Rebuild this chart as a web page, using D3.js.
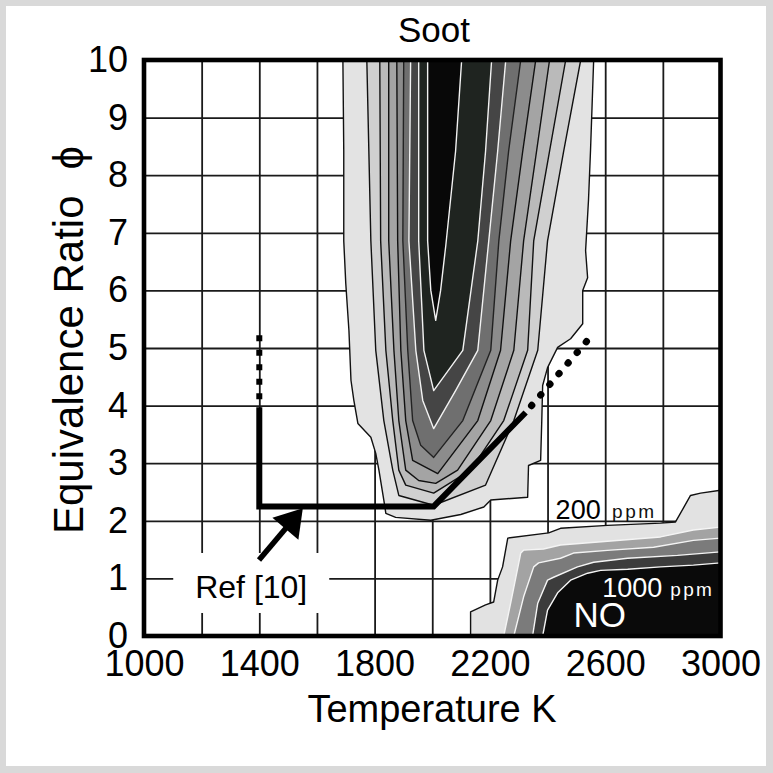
<!DOCTYPE html>
<html><head><meta charset="utf-8">
<script src="https://cdn.jsdelivr.net/npm/d3@7"></script>
<style>html,body{margin:0;padding:0;background:#d9d9d9;} svg{display:block;}</style>
</head><body>
<svg id="chart" width="773" height="773"></svg>
<script>
// ---------------- data ----------------
const xTickValues = [1000, 1400, 1800, 2200, 2600, 3000];
const yTickValues = [0, 1, 2, 3, 4, 5, 6, 7, 8, 9, 10];
const xGridValues = [1200, 1400, 1600, 1800, 2000, 2200, 2400, 2600, 2800];
const yGridValues = [1, 2, 3, 4, 5, 6, 7, 8, 9];

// Soot contour regions [T (K), phi], outermost (L1) to core (L9)
const sootL1 = [[1690,10],[1693,8.42],[1693,6.86],[1700,6.12],[1711,5.30],[1718,4.44],[1728,4.09],[1742,3.69],[1787,3.45],[1804,3.17],[1815,2.88],[1832,2.36],[1839,2.13],[1873,2.06],[1995,2.01],[2099,2.11],[2179,2.24],[2203,2.36],[2331,2.41],[2334,2.96],[2376,3.05],[2380,3.74],[2383,4.35],[2400,4.66],[2435,5.01],[2480,5.16],[2522,5.42],[2522,6.0],[2539,6.22],[2532,6.69],[2542,7.56],[2549,8.42],[2560,10]];
const sootL2 = [[1773,10],[1787,6.86],[1804,4.96],[1832,3.74],[1863,2.88],[1884,2.44],[2005,2.27],[2185,2.62],[2283,3.74],[2366,4.96],[2400,6.86],[2456,8.42],[2515,10]];
const sootL3 = [[1818,10],[1821,6.86],[1839,4.96],[1863,3.74],[1884,2.88],[1908,2.62],[2005,2.48],[2133,2.88],[2248,3.74],[2331,4.96],[2352,6.86],[2407,8.42],[2463,10]];
const sootL4 = [[1849,10],[1849,6.86],[1867,4.96],[1884,3.74],[1908,2.88],[1953,2.70],[2012,2.65],[2088,2.88],[2203,3.74],[2283,4.96],[2317,6.86],[2362,8.42],[2407,10]];
const sootL5 = [[1877,10],[1880,6.86],[1891,4.96],[1908,3.74],[1932,3.05],[2019,2.82],[2158,3.74],[2237,4.96],[2272,6.86],[2314,8.42],[2359,10]];
const sootL6 = [[1901,10],[1898,6.86],[1915,4.96],[1932,3.74],[1960,3.31],[2005,3.10],[2106,3.74],[2203,4.96],[2231,6.86],[2265,8.42],[2307,10]];
const sootL7 = [[1925,10],[1919,6.86],[1943,4.96],[1967,4.09],[2005,3.60],[2081,4.26],[2158,4.96],[2196,6.86],[2227,8.42],[2255,10]];
const sootL8 = [[1953,10],[1953,6.86],[1971,4.96],[2005,4.26],[2106,4.96],[2158,6.86],[2185,8.42],[2206,10]];
const sootL9 = [[1984,10],[1984,6.86],[1995,6.0],[2012,5.48],[2029,6.0],[2047,6.78],[2081,8.42],[2102,10]];

// NO contour regions [T, phi], 200 ppm (outer) to 1000 ppm (inner)
const noL1 = [[2133,0],[2133,0.42],[2185,0.54],[2213,0.59],[2227,0.97],[2244,1.20],[2262,1.70],[2404,1.79],[2445,1.87],[2608,1.92],[2792,1.96],[2844,1.98],[2896,2.44],[2931,2.48],[3000,2.53],[3000,0]];
const noL2 = [[2248,0],[2272,0.57],[2307,1.44],[2317,1.49],[2386,1.51],[2445,1.58],[2619,1.65],[2792,1.72],[2906,1.84],[3000,1.89],[3000,0]];
const noL3 = [[2283,0],[2317,0.68],[2352,1.20],[2369,1.27],[2445,1.35],[2490,1.44],[2619,1.49],[2768,1.54],[2906,1.66],[3000,1.70],[3000,0]];
const noL4 = [[2348,0],[2366,0.57],[2400,0.97],[2421,1.02],[2504,1.20],[2560,1.28],[2678,1.35],[2851,1.40],[3000,1.46],[3000,0]];
const noL5 = [[2383,0],[2400,0.45],[2435,0.75],[2480,0.97],[2539,1.09],[2584,1.14],[2678,1.16],[2792,1.20],[2906,1.23],[3000,1.27],[3000,0]];

// Ref [10] path
const refSolid = [[1400,3.97],[1400,2.25],[2005,2.25],[2324,3.88]];
const refDotVertical = [[1400,3.97],[1400,5.27]];
const refDotDiagonal = [[2324,3.88],[2545,5.17]];
const refArrow = [[1399,1.32],[1551,2.22]];

// ---------------- styles ----------------
const FONT = '"Liberation Sans", Arial, Helvetica, sans-serif';
const sootFills = ['#e3e3e3','#d0d0d0','#bababa','#a4a4a4','#8c8c8c','#6f6f6f','#454545','#1f2420','#080808'];
const sootStrokes = ['#111','#111','#111','#111','#111','#222','#f2f2f2','#f2f2f2','#f2f2f2'];
const noFills = ['#e2e2e2','#a3a3a3','#7b7b7b','#3c3c3c','#0a0a0a'];
const noStrokes = ['#111','#f4f4f4','#f4f4f4','#f4f4f4','#f4f4f4'];

const W = 773, H = 773;
const plot = {left: 144, right: 720.5, top: 60, bottom: 636};
const x = d3.scaleLinear().domain([1000, 3000]).range([plot.left, plot.right]);
const y = d3.scaleLinear().domain([0, 10]).range([plot.bottom, plot.top]);

const svg = d3.select('#chart');
svg.append('rect').attr('width', W).attr('height', H).attr('fill', '#d9d9d9');
svg.append('rect').attr('x', 6).attr('y', 6).attr('width', 760).attr('height', 760).attr('fill', '#ffffff');

svg.append('defs').append('clipPath').attr('id', 'plotClip')
  .append('rect').attr('x', plot.left).attr('y', plot.top)
  .attr('width', plot.right - plot.left).attr('height', plot.bottom - plot.top);

// grid
const gridX = svg.append('g').attr('transform', `translate(0,${plot.bottom})`)
  .call(d3.axisBottom(x).tickValues(xGridValues).tickSize(-(plot.bottom - plot.top)).tickFormat(''));
gridX.select('.domain').remove();
gridX.selectAll('line').attr('stroke', '#1a1a1a').attr('stroke-width', 1.8);
const gridY = svg.append('g').attr('transform', `translate(${plot.left},0)`)
  .call(d3.axisLeft(y).tickValues(yGridValues).tickSize(-(plot.right - plot.left)).tickFormat(''));
gridY.select('.domain').remove();
gridY.selectAll('line').attr('stroke', '#1a1a1a').attr('stroke-width', 1.8);

// Ref label (white box covers grid)
const labelT = 1372, labelPhi = 0.66;
svg.append('rect').attr('x', x(labelT) - 78).attr('y', y(labelPhi) - 45)
  .attr('width', 156).attr('height', 60).attr('fill', '#fff');

// contours
const line = d3.line().x(d => x(d[0])).y(d => y(d[1])).curve(d3.curveLinear);
const cg = svg.append('g').attr('clip-path', 'url(#plotClip)');
const sootLevels = [sootL1, sootL2, sootL3, sootL4, sootL5, sootL6, sootL7, sootL8, sootL9];
sootLevels.forEach((poly, i) => {
  cg.append('path').attr('d', line(poly) + 'Z')
    .attr('fill', sootFills[i]).attr('stroke', sootStrokes[i]).attr('stroke-width', 1.4)
    .attr('stroke-linejoin', 'round');
});
const noLevels = [noL1, noL2, noL3, noL4, noL5];
noLevels.forEach((poly, i) => {
  cg.append('path').attr('d', line(poly) + 'Z')
    .attr('fill', noFills[i]).attr('stroke', noStrokes[i]).attr('stroke-width', 1.4)
    .attr('stroke-linejoin', 'round');
});

// frame
svg.append('rect').attr('x', plot.left).attr('y', plot.top)
  .attr('width', plot.right - plot.left).attr('height', plot.bottom - plot.top)
  .attr('fill', 'none').attr('stroke', '#000').attr('stroke-width', 4.6);

// Ref [10] path
svg.append('path').attr('d', line(refSolid)).attr('fill', 'none')
  .attr('stroke', '#000').attr('stroke-width', 6).attr('stroke-linejoin', 'miter');
svg.append('path').attr('d', line(refDotVertical)).attr('fill', 'none')
  .attr('stroke', '#000').attr('stroke-width', 6).attr('stroke-dasharray', '6 8.5').attr('stroke-dashoffset', 6.5);
svg.append('path').attr('d', line(refDotDiagonal)).attr('fill', 'none')
  .attr('stroke', '#000').attr('stroke-width', 7).attr('stroke-linecap', 'round')
  .attr('stroke-dasharray', '0.5 13.5').attr('stroke-dashoffset', -9);

// arrow
{
  const [t0, t1] = refArrow;
  const ax = x(t0[0]), ay = y(t0[1]), bx = x(t1[0]), by = y(t1[1]);
  const len = Math.hypot(bx - ax, by - ay), ux = (bx - ax) / len, uy = (by - ay) / len;
  const hl = 27, hw = 17;
  const cx = bx - ux * hl, cy = by - uy * hl;
  svg.append('line').attr('x1', ax).attr('y1', ay).attr('x2', cx + ux * 2).attr('y2', cy + uy * 2)
    .attr('stroke', '#000').attr('stroke-width', 5.5);
  svg.append('path').attr('d', `M${bx},${by}L${cx - uy * hw},${cy + ux * hw}L${cx + uy * hw},${cy - ux * hw}Z`)
    .attr('fill', '#000');
}
svg.append('text').attr('x', x(labelT)).attr('y', y(labelPhi)).attr('text-anchor', 'middle')
  .attr('font-family', FONT).attr('font-size', 32).attr('fill', '#000').text('Ref [10]');

// NO annotations
const ann = svg.append('g').attr('font-family', FONT);
ann.append('text').attr('x', x(2428)).attr('y', y(2.03)).attr('font-size', 27).attr('fill', '#000').text('200');
ann.append('text').attr('x', x(2624)).attr('y', y(2.05)).attr('font-size', 19).attr('letter-spacing', 2.5).attr('fill', '#111').text('ppm');
ann.append('text').attr('x', x(2590)).attr('y', y(0.68)).attr('font-size', 27).attr('fill', '#fff').text('1000');
ann.append('text').attr('x', x(2826)).attr('y', y(0.70)).attr('font-size', 19).attr('letter-spacing', 2.3).attr('fill', '#fff').text('ppm');
ann.append('text').attr('x', x(2490)).attr('y', y(0.16)).attr('font-size', 35).attr('fill', '#fff').text('NO');

// axes labels
const xAxis = svg.append('g').attr('transform', `translate(0,${plot.bottom})`)
  .call(d3.axisBottom(x).tickValues(xTickValues).tickSize(0).tickPadding(14).tickFormat(d3.format('d')));
xAxis.select('.domain').remove();
xAxis.selectAll('text').attr('font-family', FONT).attr('font-size', 36).attr('fill', '#000');
const yAxis = svg.append('g').attr('transform', `translate(${plot.left},0)`)
  .call(d3.axisLeft(y).tickValues(yTickValues).tickSize(0).tickPadding(16).tickFormat(d3.format('d')));
yAxis.select('.domain').remove();
yAxis.selectAll('text').attr('font-family', FONT).attr('font-size', 36).attr('fill', '#000');

svg.append('text').attr('x', 434).attr('y', 42).attr('text-anchor', 'middle')
  .attr('font-family', FONT).attr('font-size', 35).attr('fill', '#000').text('Soot');
svg.append('text').attr('x', 432).attr('y', 722).attr('text-anchor', 'middle')
  .attr('font-family', FONT).attr('font-size', 38).attr('fill', '#000').text('Temperature K');
const yt = svg.append('text').attr('transform', 'translate(83,340) rotate(-90)').attr('text-anchor', 'middle')
  .attr('font-family', FONT).attr('font-size', 42).attr('fill', '#000');
yt.append('tspan').text('Equivalence Ratio');
yt.append('tspan').attr('dx', 26).text('\u03D5');
</script>
</body></html>
